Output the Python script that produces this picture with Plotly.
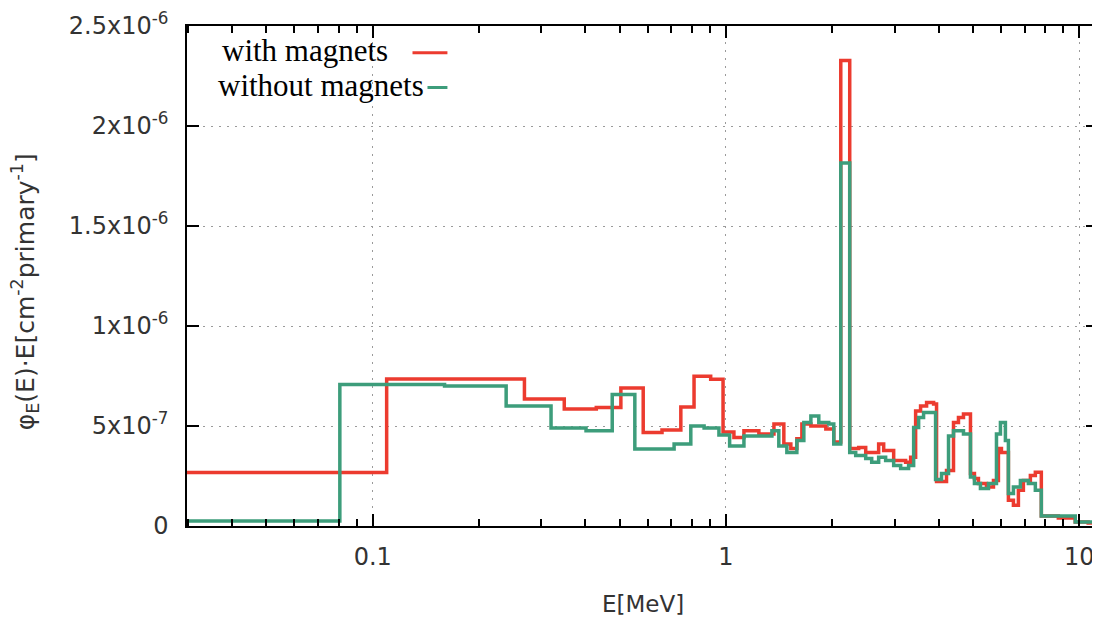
import plotly.graph_objects as go
import numpy as np

# ---------------- data (energies in MeV, values in units of 1e-6 cm^-2 primary^-1) ----------------
red_edges = [0.025, 0.1095, 0.2688, 0.3485, 0.4294, 0.504, 0.583, 0.659, 0.745, 0.812, 0.905,
             0.981, 1.053, 1.124, 1.239, 1.367, 1.458, 1.526, 1.587, 1.640, 1.739, 1.917, 2.019,
             2.113, 2.240, 2.375, 2.486, 2.705, 2.795, 2.983, 3.225, 3.332, 3.442, 3.555, 3.697,
             3.87, 3.945, 4.21, 4.406, 4.551, 4.702, 4.921, 5.05, 5.184, 5.462, 5.717, 5.905,
             6.022, 6.302, 6.511, 6.726, 6.948, 7.272, 7.511, 7.81, 8.726, 9.743, 10.6, 11.5]
red_vals = [0.268, 0.735, 0.635, 0.585, 0.592, 0.690, 0.468, 0.480, 0.595, 0.749, 0.734,
            0.470, 0.443, 0.476, 0.460, 0.510, 0.410, 0.387, 0.436, 0.510, 0.500, 0.485,
            0.420, 2.328, 0.387, 0.393, 0.368, 0.410, 0.377, 0.327, 0.319, 0.344, 0.575,
            0.600, 0.617, 0.610, 0.222, 0.278, 0.517, 0.542, 0.560, 0.263, 0.238, 0.213,
            0.195, 0.228, 0.387, 0.368, 0.129, 0.104, 0.179, 0.228, 0.253, 0.269, 0.050,
            0.040, 0.020, 0.015]

green_edges = [0.025, 0.0807, 0.1597, 0.2386, 0.3197, 0.4016, 0.4764, 0.552, 0.713, 0.795,
               0.867, 0.955, 1.024, 1.124, 1.349, 1.411, 1.487, 1.587, 1.661, 1.739, 1.831,
               1.954, 2.019, 2.113, 2.240, 2.329, 2.486, 2.585, 2.705, 2.831, 2.983, 3.122,
               3.288, 3.398, 3.51, 3.625, 3.92, 4.075, 4.265, 4.406, 4.702, 4.921, 5.05,
               5.252, 5.534, 5.83, 5.983, 6.18, 6.302, 6.511, 6.814, 7.178, 7.511, 7.81,
               8.726, 9.743, 11.5]
green_vals = [0.025, 0.708, 0.700, 0.600, 0.490, 0.476, 0.658, 0.385, 0.410, 0.500,
              0.490, 0.455, 0.400, 0.450, 0.476, 0.400, 0.368, 0.427, 0.517, 0.550,
              0.517, 0.510, 0.410, 1.815, 0.368, 0.352, 0.337, 0.319, 0.344, 0.327,
              0.303, 0.288, 0.303, 0.493, 0.542, 0.567, 0.233, 0.263, 0.450, 0.476,
              0.460, 0.245, 0.213, 0.188, 0.213, 0.460, 0.517, 0.427, 0.163, 0.195,
              0.228, 0.213, 0.179, 0.050, 0.050, 0.020]

x_tick_vals = [0.1, 1, 10]
x_tick_text = ["0.1", "1", "10"]
x_minor_vals = [0.03, 0.04, 0.05, 0.06, 0.07, 0.08, 0.09,
                0.2, 0.3, 0.4, 0.5, 0.6, 0.7, 0.8, 0.9,
                2, 3, 4, 5, 6, 7, 8, 9]
y_tick_vals = [0, 5e-7, 1e-6, 1.5e-6, 2e-6, 2.5e-6]
y_tick_text = ["0", "5x10<sup>-7</sup>", "1x10<sup>-6</sup>", "1.5x10<sup>-6</sup>",
               "2x10<sup>-6</sup>", "2.5x10<sup>-6</sup>"]
series_names = ["with magnets", "without magnets"]

RED = "#ec3b2f"
GREEN = "#3d9d7b"


def step_xy(edges, vals):
    y = [v * 1e-6 for v in vals]
    return list(edges), y + [y[-1]]


fig = go.Figure()
for edges, vals, name, col in [(red_edges, red_vals, series_names[0], RED),
                               (green_edges, green_vals, series_names[1], GREEN)]:
    x, y = step_xy(edges, vals)
    fig.add_trace(go.Scatter(x=x, y=y, mode="lines", name=name,
                             line=dict(color=col, width=3.5, shape="hv"),
                             showlegend=False))

# page body has an 8px default margin: compensate so the plot area lands on screen
OFF = 8
SCR_W, SCR_H = 1100, 619
PL, PR, PT, PB = 187, 1100, 22, 526   # plot area in screen pixels
W, H = SCR_W - OFF, SCR_H - OFF
L = PL - OFF
T = PT - OFF
R = (OFF + W) - PR
B = (OFF + H) - PB


def px_x(px):
    return (px - PL) / (PR - PL)


def px_y(py):
    return (PB - py) / (PB - PT)


tickfont = dict(family="DejaVu Sans", size=24, color="#333333")
fig.update_layout(
    width=W, height=H,
    margin=dict(l=L, r=R, t=T, b=B, pad=0),
    paper_bgcolor="white", plot_bgcolor="white",
    xaxis=dict(type="log", range=[np.log10(0.0298), np.log10(11.3)],
               tickmode="array", tickvals=x_tick_vals, ticktext=x_tick_text,
               ticks="inside", ticklen=12, tickwidth=1.5, tickcolor="black",
               showline=True, linecolor="black", linewidth=1.5, mirror="ticks",
               showgrid=True, gridcolor="#9a9a9a", gridwidth=1, griddash="2px,6px",
               zeroline=False, tickfont=tickfont, ticklabelstandoff=8,
               ticklabeloverflow="allow",
               minor=dict(tickmode="array", tickvals=x_minor_vals, ticks="inside",
                          ticklen=7, tickwidth=1.5, tickcolor="black", showgrid=False)),
    yaxis=dict(range=[0, 2.5e-6], tickmode="array", tickvals=y_tick_vals, ticktext=y_tick_text,
               ticks="inside", ticklen=12, tickwidth=1.5, tickcolor="black",
               showline=True, linecolor="black", linewidth=1.5, mirror="ticks",
               showgrid=True, gridcolor="#9a9a9a", gridwidth=1, griddash="2px,6px",
               zeroline=False, tickfont=tickfont, ticklabelstandoff=12,
               ticklabeloverflow="allow"),
)

# axis titles
fig.add_annotation(text="E[MeV]", xref="paper", yref="paper", x=0.5, y=px_y(605),
                   xanchor="center", yanchor="middle", showarrow=False,
                   font=dict(family="DejaVu Sans", size=23, color="#333333"))
fig.add_annotation(text="φ<sub>E</sub>(E)·E[cm<sup>-2</sup>primary<sup>-1</sup>]",
                   xref="paper", yref="paper", x=px_x(25), y=px_y(290), textangle=-90,
                   xanchor="center", yanchor="middle", showarrow=False,
                   font=dict(family="DejaVu Sans", size=25, color="#333333"))

# legend (gnuplot style key: text then sample line)
legend_rows = [(series_names[0], RED, 390, 47, 413), (series_names[1], GREEN, 427, 82, 428)]
for name, col, xr, yc, xs in legend_rows:
    fig.add_annotation(text=name, xref="paper", yref="paper", x=px_x(xr), y=px_y(yc),
                       xanchor="right", yanchor="middle", showarrow=False,
                       font=dict(family="Liberation Serif", size=31, color="black"))
    fig.add_shape(type="line", xref="paper", yref="paper", x0=px_x(xs), x1=px_x(448),
                  y0=px_y(yc + 2), y1=px_y(yc + 2), line=dict(color=col, width=3))

fig.write_html("out.html")
